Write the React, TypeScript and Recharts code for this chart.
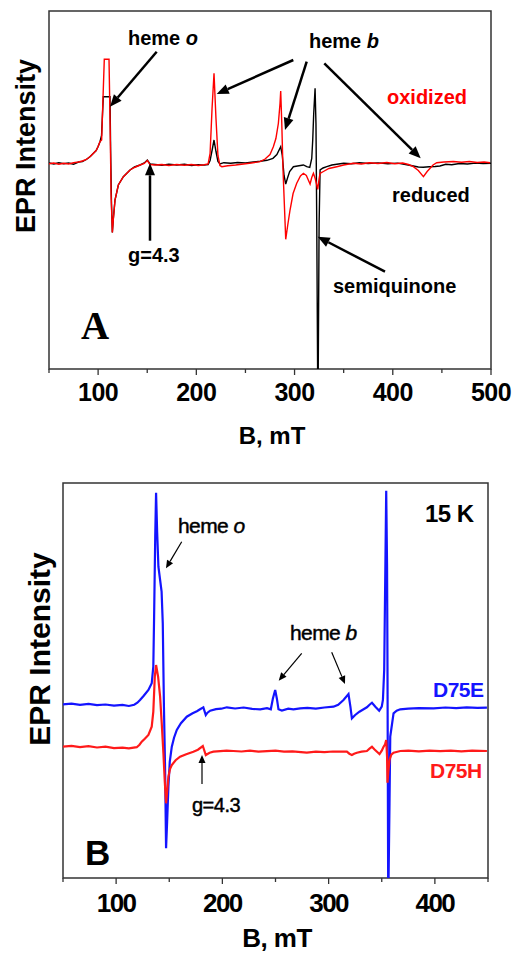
import { LineChart, Line, XAxis, YAxis, ReferenceArea } from "recharts"

// field (mT), signal (arb. units)
const reducedA: [number, number][] = [
  [50, 0.5], [55, -0.5], [60, 0.8], [65, -0.3], [70, 0.5], [75, -0.8], [80, 1.5], [84, 2], [88, 4], [92, 7],
  [95, 10], [98, 13], [100, 17], [102, 22], [103.5, 28], [104.5, 50], [105.3, 66.8], [112.1, 66.8], [112.8, 10],
  [113.6, -40], [114.5, -69], [115.5, -55], [117.2, -36.5], [120.6, -21.5], [125.7, -13.2], [132.5, -6.5],
  [137, -3.5], [142.7, -1.5], [147, 0.5], [150.1, 3.5], [152.9, -0.5], [158, -1], [165, -1.8], [172, -0.6],
  [180, -1.5], [188, -0.8], [195, -2], [202, -1.2], [208, -1.6], [212, -1], [214, 3], [216, 13], [218, 23.5],
  [220, 12], [222, 2], [224, -0.5], [228, 0.8], [235, 0.2], [242, 1], [250, 0.6], [258, 1.5], [265, 2.2],
  [272, 3.2], [278, 5.2], [282, 9], [285.9, 16.8], [287.5, 8], [289.3, -12], [291, -20.5], [293, -14], [295, -8],
  [298.8, -3.2], [303, -2.5], [309, -1.5], [312.4, -3.2], [315.5, -4], [317.5, 5], [318.5, 23.5], [319.5, 50],
  [320.9, 75.2], [321.8, 40], [322.6, -60], [323.8, -260], [325, -60], [326, -6.5], [329, -4.5], [332.8, -3.2],
  [338, -1.5], [343, -0.8], [350, 0.3], [358, -0.2], [366, 0.8], [375, 0], [385, 0.6], [395, -0.3], [405, 0.4],
  [413, -1], [421, -2.5], [426, -3.5], [431, -3.8], [437, -3.3], [443, -3], [448, -2.5], [454, -0.8], [460, -1.2],
  [468, 0], [476, -0.5], [484, 0.4], [492, 0], [500, 0.3],
]

const oxidizedA: [number, number][] = [
  [50, -0.3], [55, 0.5], [60, -0.8], [65, 0.3], [70, -0.5], [75, 0.8], [80, 1.5], [84, 2.5], [88, 4], [92, 7],
  [95, 10], [98, 13], [100, 17], [102, 22], [103.6, 23.5], [104.8, 60], [106.3, 104.2], [111.1, 104.2],
  [112.2, 40], [113.2, -30], [114.5, -69], [115.5, -56], [117.2, -36.5], [120.6, -21.5], [125.7, -13.2],
  [132.5, -6.5], [137, -4], [142.7, -1.5], [147, 0], [150.1, 3], [152.9, -1], [158, -1.5], [165, -1], [172, -2],
  [180, -1], [188, -1.8], [195, -1], [202, -2], [208, -1.2], [212, -0.5], [214, 10], [216, 55], [218, 90.2],
  [220, 45], [222, 8], [224, -2], [226, -3.2], [232, -2.2], [240, -1.5], [248, -0.5], [256, 0.5], [264.9, 1.8],
  [270, 4.5], [275, 9], [278.4, 16.8], [281, 25], [283.5, 40], [285.2, 60], [285.9, 72.5], [287, 40],
  [288.2, -5], [289.3, -33], [291, -75.8], [293, -62], [295.4, -46.5], [298.5, -30], [302.2, -19.8],
  [306, -12.5], [309, -9.8], [312, -12], [314, -16.5], [315.8, -20.5], [317.5, -14], [319.2, -9.8], [321, -15],
  [322.6, -21.5], [323.6, -25.8], [325, -15], [326, -9.8], [329.4, -8], [335, -5], [343, -3.2], [350, -1.5],
  [359.9, 0.2], [368, -0.5], [376, 0.8], [385, 0], [394, 1], [402, -0.3], [410, 0.5], [416, -1], [421, -3.2],
  [426, -7], [431.2, -13.2], [435, -8], [438, -4.8], [441, -1.5], [444.8, 0.8], [452, 1.5], [461.7, 2],
  [470, 1.2], [478, 2], [486, 1], [493, 1.5], [499, 0.8],
]

const d75e: [number, number][] = [
  [50, 42.4], [58, 43], [66, 41.8], [74, 42.8], [82, 41.5], [90, 42.2], [98, 41], [106, 41.8], [112, 40.7],
  [117, 42], [120, 44], [122.5, 46.7], [126, 51], [130.4, 56.7], [133.5, 63.4], [135, 80], [135.7, 126.7],
  [136.8, 210], [137.6, 254], [138.6, 215], [139.8, 180], [141.4, 166.7], [142.8, 155], [143.9, 123.4],
  [145, 40], [146.1, -23.3], [147, -101.6], [148, -75], [149.2, -40], [150.5, -15], [152.4, 0], [154.5, 9],
  [157.1, 16.7], [161, 23.5], [166.5, 30], [172, 33.5], [176, 35.5], [179, 37.4], [182.1, 39.4], [184.4, 31.7],
  [186, 34], [188.5, 36], [194, 37.5], [199, 38], [204.2, 39.4], [212, 38.2], [220, 39.2], [228, 37.8],
  [235.6, 37.4], [242, 38.5], [245.6, 37.4], [247.5, 48], [249.7, 56.7], [251.3, 48], [252.8, 37.4],
  [256, 36.2], [262, 38], [266.9, 37.4], [273.2, 38.4], [280, 38.8], [288, 38], [296, 39.2], [304.6, 40],
  [309, 42], [314, 46.7], [318.7, 52.7], [320.5, 40], [321.9, 28.4], [325, 31.7], [329, 35], [332.9, 37.4],
  [336, 39.4], [338.5, 42], [340.8, 44], [344, 40], [347.6, 36], [350, 40], [351.1, 46.7], [352.3, 76.7],
  [353.4, 180], [354.2, 256], [355, 180], [355.4, 80], [356.1, -160], [357.3, -56.6], [358, 10], [361.1, 33.4],
  [364, 36], [367.4, 37.4], [375, 38], [385, 38.6], [398.8, 38.4], [410, 39.2], [420, 38.6], [430, 39.4],
  [440, 38.8], [449, 39],
]

const d75h: [number, number][] = [
  [50, 0], [58, 0.8], [66, -0.5], [74, 0.5], [82, -0.8], [90, 0], [98, -1.5], [106, -1], [112, -1.7],
  [119.4, -0.5], [122, 2], [124.1, 5], [127, 8], [130.4, 11.7], [133.5, 20], [135, 35], [136.4, 70],
  [137.6, 81.7], [139.5, 70], [141.4, 50], [143, 22], [144.5, -6.6], [145.8, -35], [147, -56.6], [148, -45],
  [149.2, -30], [150.8, -22], [152.4, -18.3], [156, -13.5], [160.2, -10], [166, -7.5], [172.7, -5], [177, -3],
  [181.6, 0.7], [184.4, -8.3], [188, -6], [191.6, -5], [198, -4.5], [204, -4], [210.4, -4.3], [218, -4.8],
  [226, -4], [234, -5], [242, -4.5], [250, -4], [258, -5], [266, -4.6], [274, -5.5], [279.5, -6], [288, -5],
  [296, -5.5], [304, -4.8], [310, -5], [317.2, -5], [319.5, -7], [321.9, -8.3], [324, -7], [326.6, -6],
  [331, -5], [336, -4.3], [338.5, -2], [340.8, 0], [343, -2.5], [345.5, -5], [347.9, -7.3], [350, -4],
  [351.7, 0], [353, 2], [354.2, 6.7], [355, -10], [355.4, -36], [356.2, -25], [357.3, -13.3], [359, -8],
  [361.1, -6], [367.4, -4.3], [375, -4], [385, -4.6], [395, -4], [405, -4.4], [415, -4], [425, -4.6],
  [435, -4], [449, -4.3],
]

const ticksA = [50, 100, 150, 200, 250, 300, 350, 400, 450, 500]
const ticksB = [50, 100, 150, 200, 250, 300, 350, 400, 450]
const domainXA: [number, number] = [50, 500]
const domainXB: [number, number] = [50, 450]
const domainYA: [number, number] = [-205.5, 152.5]
const domainYB: [number, number] = [-131.3, 263.7]

const toRows = (pts: [number, number][]) => pts.map(([b, v]) => ({ b, v }))

const FONT = "'Liberation Sans', Arial, sans-serif"
const FRAME = "#333"

function makeTick(labelDy: number, fontSize: number, spacing: number) {
  return function Tick(props: any) {
    const { x, y, payload } = props
    const major = payload.value % 100 === 0
    return (
      <g>
        <line x1={x} x2={x} y1={y} y2={y + (major ? 6 : 4)} stroke={FRAME} strokeWidth={1.3} />
        {major && (
          <text
            x={x}
            y={y + labelDy}
            textAnchor="middle"
            fontFamily={FONT}
            fontWeight="bold"
            fontSize={fontSize}
            letterSpacing={spacing}
            fill="#000"
          >
            {payload.value}
          </text>
        )}
      </g>
    )
  }
}

function Arrow({ x1, y1, x2, y2, w, head, hw }: any) {
  const len = Math.hypot(x2 - x1, y2 - y1)
  const ux = (x2 - x1) / len
  const uy = (y2 - y1) / len
  const bx = x2 - ux * head
  const by = y2 - uy * head
  return (
    <g>
      <line x1={x1} y1={y1} x2={bx} y2={by} stroke="#000" strokeWidth={w} />
      <polygon
        points={`${x2},${y2} ${bx - uy * hw},${by + ux * hw} ${bx + uy * hw},${by - ux * hw}`}
        fill="#000"
      />
    </g>
  )
}

function PanelA() {
  return (
    <LineChart width={515} height={460} margin={{ top: 11, right: 24, bottom: 0, left: 49 }}>
      <XAxis
        dataKey="b"
        type="number"
        domain={domainXA}
        ticks={ticksA}
        interval={0}
        allowDataOverflow
        axisLine={false}
        tickLine={false}
        tickSize={0}
        tickMargin={0}
        height={91}
        tick={makeTick(32, 25, -0.5)}
      />
      <YAxis hide type="number" domain={domainYA} allowDataOverflow />
      <Line data={toRows(reducedA)} dataKey="v" type="linear" dot={false} stroke="#000" strokeWidth={1.4} isAnimationActive={false} />
      <Line data={toRows(oxidizedA)} dataKey="v" type="linear" dot={false} stroke="#ff0000" strokeWidth={1.4} isAnimationActive={false} />
      <ReferenceArea x1={domainXA[0]} x2={domainXA[1]} y1={domainYA[0]} y2={domainYA[1]} fill="none" stroke={FRAME} strokeWidth={1.5} ifOverflow="visible" />
    </LineChart>
  )
}

function PanelB() {
  return (
    <LineChart width={515} height={494} margin={{ top: 23, right: 27, bottom: 0, left: 63 }}>
      <XAxis
        dataKey="b"
        type="number"
        domain={domainXB}
        ticks={ticksB}
        interval={0}
        allowDataOverflow
        axisLine={false}
        tickLine={false}
        tickSize={0}
        tickMargin={0}
        height={76}
        tick={makeTick(34, 26, -1.5)}
      />
      <YAxis hide type="number" domain={domainYB} allowDataOverflow />
      <Line data={toRows(d75e)} dataKey="v" type="linear" dot={false} stroke="#1414ff" strokeWidth={2.2} isAnimationActive={false} />
      <Line data={toRows(d75h)} dataKey="v" type="linear" dot={false} stroke="#ff1a1a" strokeWidth={2.2} isAnimationActive={false} />
      <ReferenceArea x1={domainXB[0]} x2={domainXB[1]} y1={domainYB[0]} y2={domainYB[1]} fill="none" stroke={FRAME} strokeWidth={1.5} ifOverflow="visible" />
    </LineChart>
  )
}

function Annotations() {
  const bold = { fontFamily: FONT, fontWeight: "bold" as const }
  // panel B labels are set in a heavier regular weight
  const med = { fontFamily: FONT, fontWeight: "normal" as const, stroke: "#000", strokeWidth: 0.45 }
  return (
    <svg width={515} height={954} style={{ position: "absolute", left: 0, top: 0, pointerEvents: "none" }}>
      {/* panel A */}
      <text x={35} y={146} transform="rotate(-90 35 146)" textAnchor="middle" fontSize={27} {...bold}>EPR Intensity</text>
      <text x={272} y={444} textAnchor="middle" fontSize={24} {...bold}>B, mT</text>
      <text x={128} y={45} fontSize={20} {...bold}>heme <tspan fontStyle="italic">o</tspan></text>
      <text x={309} y={48} fontSize={20} {...bold}>heme <tspan fontStyle="italic">b</tspan></text>
      <text x={387} y={104} fontSize={20} fill="#ff0000" {...bold}>oxidized</text>
      <text x={392} y={202} fontSize={20} {...bold}>reduced</text>
      <text x={128} y={262} fontSize={20} {...bold}>g=4.3</text>
      <text x={333} y={293} fontSize={20} {...bold}>semiquinone</text>
      <text x={81} y={339} fontSize={39} fontFamily="'Liberation Serif', 'Times New Roman', serif" fontWeight="bold">A</text>
      <Arrow x1={156.7} y1={51.7} x2={110} y2={106.7} w={2.5} head={12} hw={5} />
      <Arrow x1={293.3} y1={60} x2={216.7} y2={94} w={2.5} head={12} hw={5} />
      <Arrow x1={306.7} y1={61.7} x2={285} y2={130} w={2.5} head={12} hw={5} />
      <Arrow x1={324.3} y1={63.3} x2={420.7} y2={158.3} w={2.5} head={12} hw={5} />
      <Arrow x1={150} y1={240.7} x2={150} y2={163.3} w={2.5} head={12} hw={5} />
      <Arrow x1={385} y1={271.7} x2={317.7} y2={236.7} w={2.5} head={12} hw={5} />

      {/* panel B */}
      <text x={50} y={649} transform="rotate(-90 50 649)" textAnchor="middle" fontSize={30} {...bold}>EPR Intensity</text>
      <text x={277} y={947} textAnchor="middle" fontSize={26} letterSpacing={-0.5} {...bold}>B, mT</text>
      <text x={425} y={522} fontSize={24} letterSpacing={-0.5} {...bold}>15 K</text>
      <text x={178} y={533} fontSize={21} letterSpacing={-0.6} {...med}>heme <tspan fontStyle="italic">o</tspan></text>
      <text x={290} y={640} fontSize={21} letterSpacing={-0.6} {...med}>heme <tspan fontStyle="italic">b</tspan></text>
      <text x={433} y={697} fontSize={21} letterSpacing={-0.5} fill="#1414ff" {...bold}>D75E</text>
      <text x={430} y={778} fontSize={21} letterSpacing={-0.5} fill="#ff1a1a" {...bold}>D75H</text>
      <text x={192} y={812} fontSize={20} letterSpacing={-0.5} {...med}>g=4.3</text>
      <text x={85} y={865} fontSize={35} {...bold}>B</text>
      <Arrow x1={181.7} y1={541.7} x2={166} y2={568.3} w={1.2} head={8} hw={3.5} />
      <Arrow x1={301.7} y1={653.3} x2={278.7} y2={680.7} w={1.2} head={8} hw={3.5} />
      <Arrow x1={331.7} y1={652.3} x2={345} y2={684} w={1.2} head={8} hw={3.5} />
      <Arrow x1={202} y1={784} x2={202} y2={755} w={1.2} head={8} hw={3.5} />
    </svg>
  )
}

export default function App() {
  return (
    <div style={{ position: "absolute", left: 0, top: 0, width: 515, height: 954, background: "#fff" }}>
      <div style={{ position: "absolute", left: 0, top: 0 }}>
        <PanelA />
      </div>
      <div style={{ position: "absolute", left: 0, top: 460 }}>
        <PanelB />
      </div>
      <Annotations />
    </div>
  )
}
